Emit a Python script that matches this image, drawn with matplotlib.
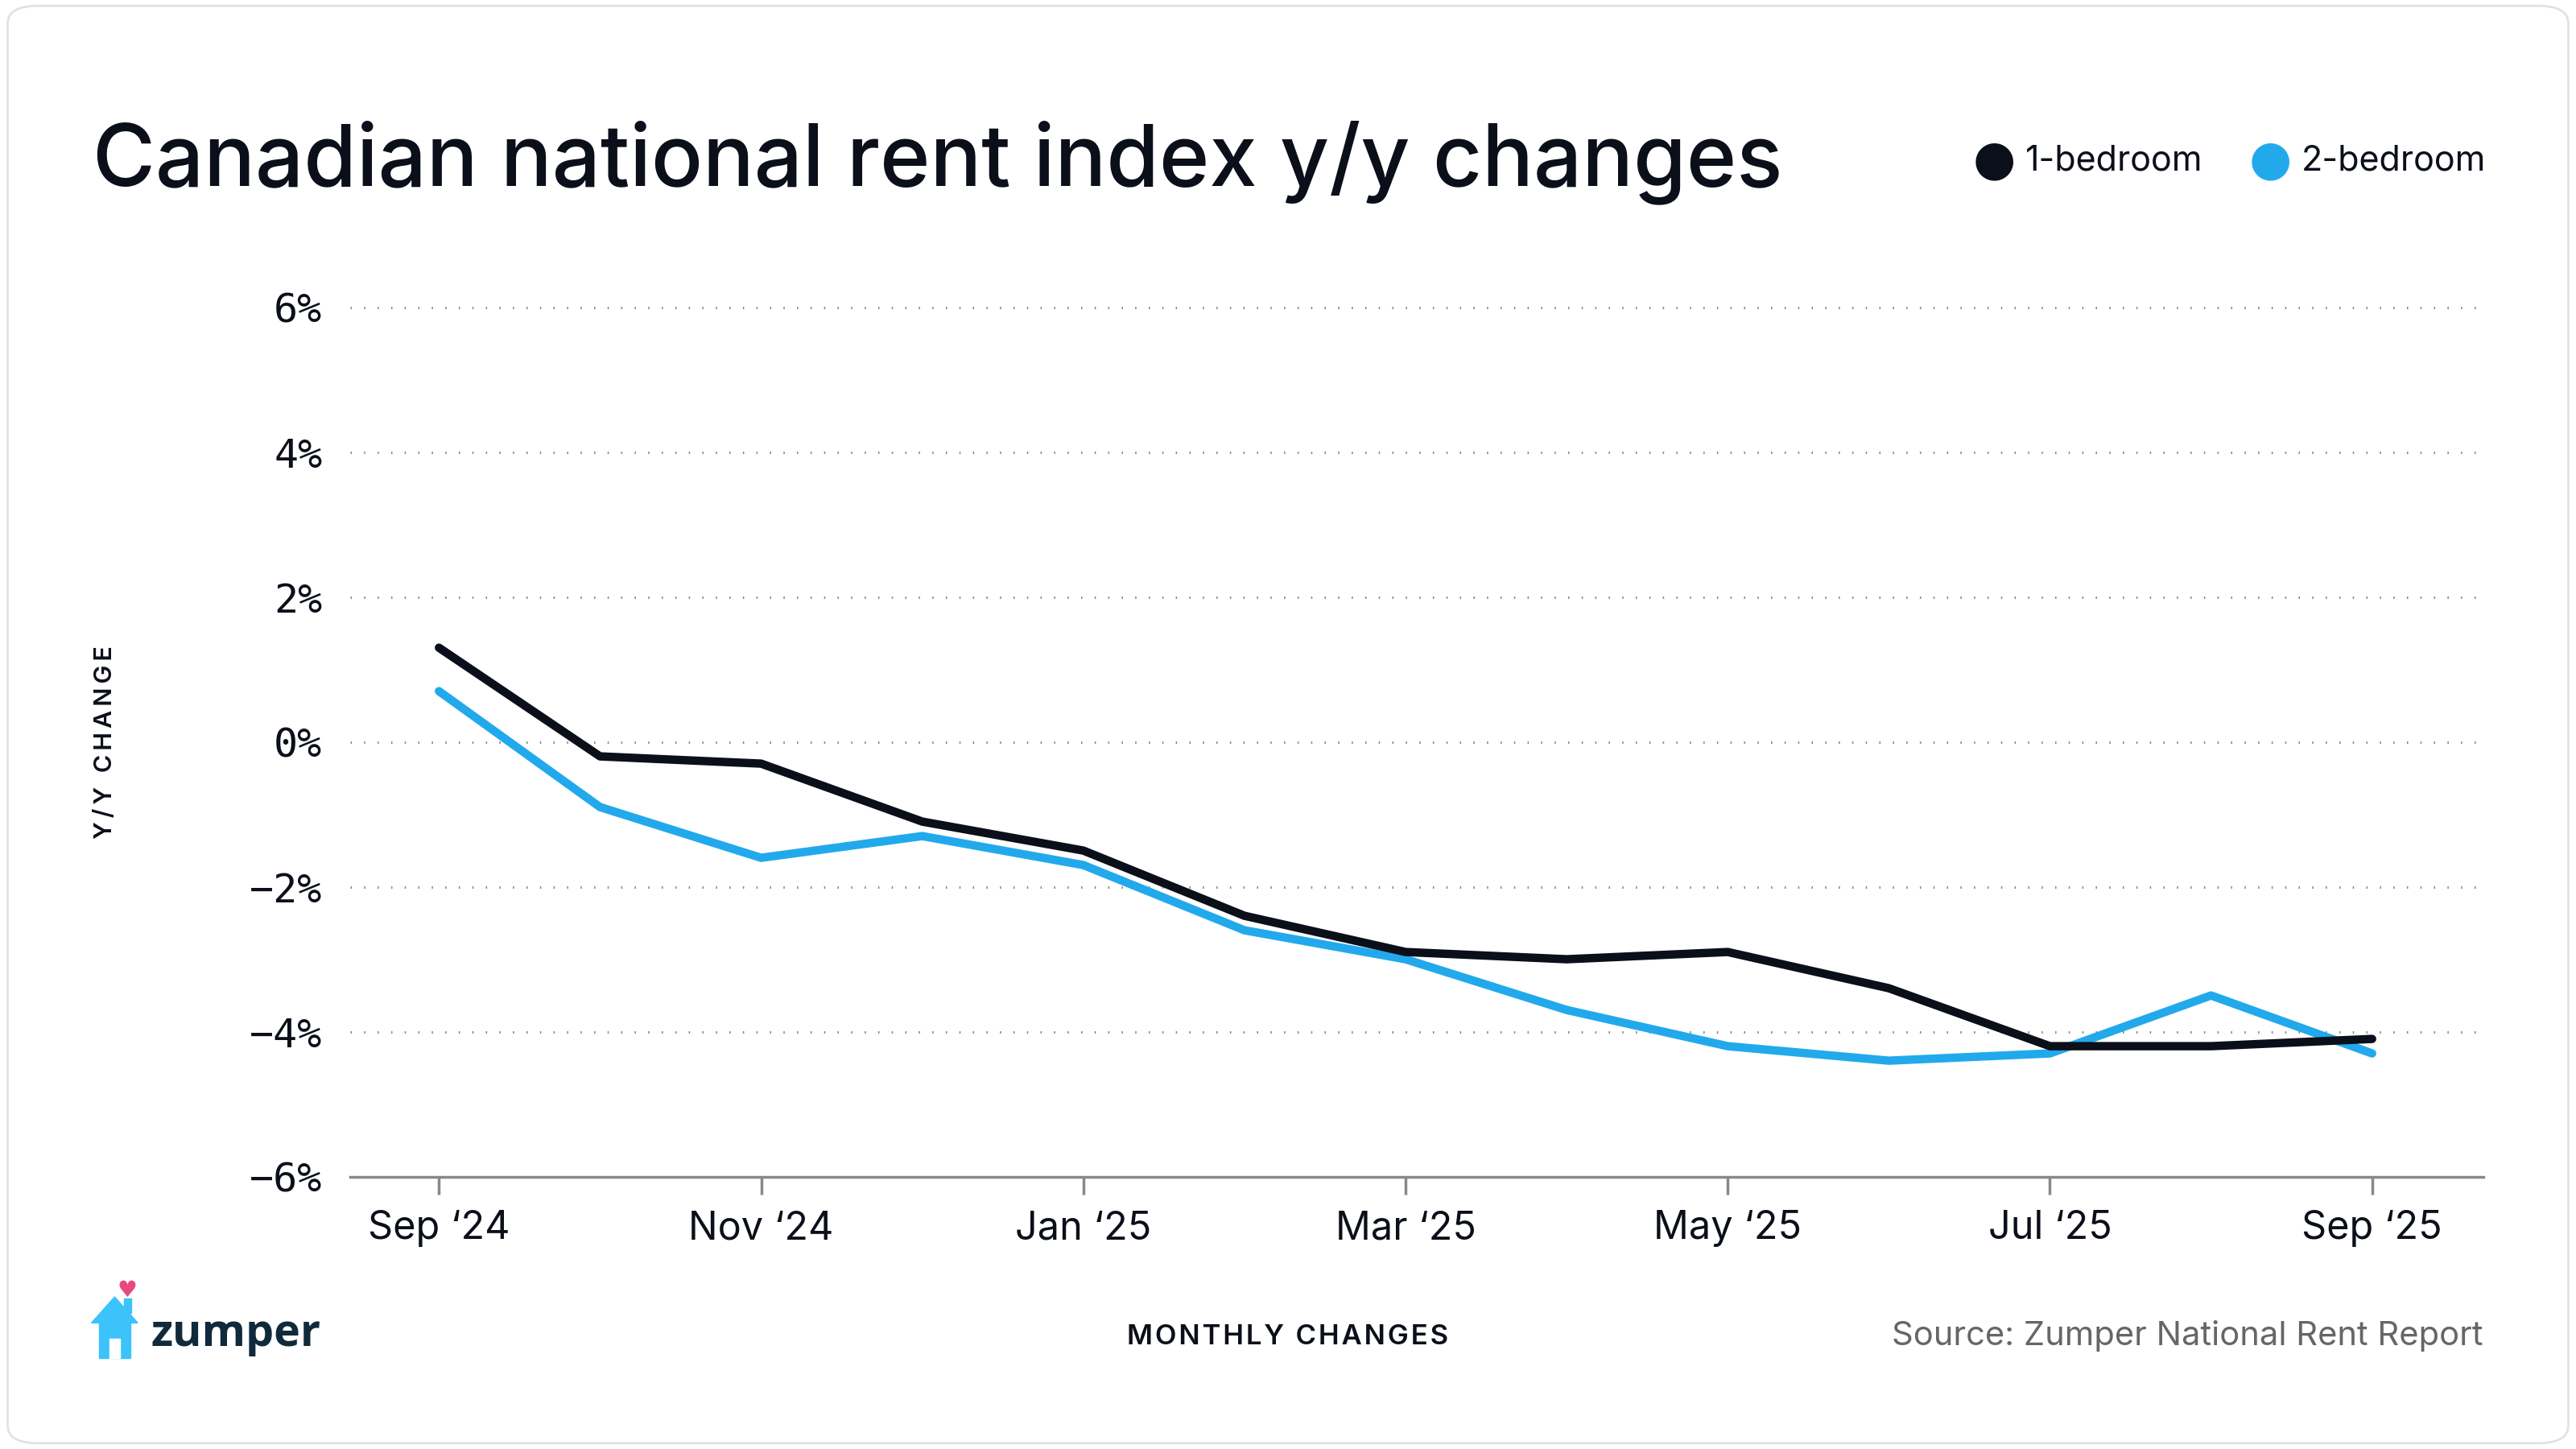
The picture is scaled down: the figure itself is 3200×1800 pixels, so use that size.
import matplotlib.pyplot as plt
from matplotlib.patches import FancyBboxPatch, Polygon, Rectangle

months = ["Sep '24", "Oct '24", "Nov '24", "Dec '24", "Jan '25", "Feb '25", "Mar '25",
          "Apr '25", "May '25", "Jun '25", "Jul '25", "Aug '25", "Sep '25"]
tick_labels = ["Sep \u201824", "Nov \u201824", "Jan \u201825", "Mar \u201825",
               "May \u201825", "Jul \u201825", "Sep \u201825"]
one_bed = [1.3, -0.2, -0.3, -1.1, -1.5, -2.4, -2.9, -3.0, -2.9, -3.4, -4.2, -4.2, -4.1]
two_bed = [0.7, -0.9, -1.6, -1.3, -1.7, -2.6, -3.0, -3.7, -4.2, -4.4, -4.3, -3.5, -4.3]
y_ticks = [-6, -4, -2, 0, 2, 4, 6]

BLACK = "#0b0f1a"
BLUE = "#22a9ec"
SANS = ["Inter", "DejaVu Sans"]
MONO = ["DejaVu Sans Mono"]

fig = plt.figure(figsize=(32, 18), dpi=100)
fig.patch.set_facecolor("white")

# card border
fig.patches.append(FancyBboxPatch((0.003, 0.004), 0.994, 0.992,
                                  boxstyle="round,pad=0,rounding_size=0.012",
                                  transform=fig.transFigure, fill=False,
                                  edgecolor="#e2e2e2", linewidth=2))

ax = fig.add_axes([0.136, 0.188, 0.828, 0.600])
x = list(range(len(months)))
ax.plot(x, two_bed, color=BLUE, lw=7.5, solid_capstyle="round", solid_joinstyle="round", zorder=3)
ax.plot(x, one_bed, color=BLACK, lw=7.5, solid_capstyle="round", solid_joinstyle="round", zorder=4)

ax.set_xlim(-0.55, 12.69)
ax.set_ylim(-6, 6)
ax.set_yticks(y_ticks)
ax.set_yticklabels([f"{v}%".replace("-", "\u2212") for v in y_ticks],
                   fontfamily=MONO, fontsize=36, color=BLACK)
ax.set_xticks(x[::2])
ax.set_xticklabels(tick_labels, fontfamily=SANS, fontsize=35, color=BLACK)

for v in y_ticks[1:]:
    ax.axhline(v, color="#888888", lw=2.2, ls=(0, (0.5, 5)), zorder=1, clip_on=False)

for s in ["top", "right", "left"]:
    ax.spines[s].set_visible(False)
ax.spines["bottom"].set_color("#888888")
ax.spines["bottom"].set_linewidth(2.5)
ax.tick_params(axis="y", length=0, pad=25)
ax.tick_params(axis="x", length=16, width=2.5, color="#888888", pad=14)

# title and legend
fig.text(0.036, 0.872, "Canadian national rent index y/y changes", fontfamily=SANS,
         fontsize=76.5, fontweight="medium", color=BLACK, ha="left", va="baseline")
for cx, label, col in [(0.7742, "1-bedroom", BLACK), (0.8814, "2-bedroom", BLUE)]:
    fig.text(cx, 0.889, "\u25cf", fontsize=44, color=col, ha="center", va="center",
             fontfamily=["DejaVu Sans"])
    fig.text(cx + 0.0121, 0.889, label, fontfamily=SANS, fontsize=31, color=BLACK,
             ha="left", va="center")

# axis titles
fig.text(0.041, 0.488, "\u200a\u200a".join("Y/Y CHANGE"), rotation=90, fontfamily=SANS,
         fontsize=22, fontweight="semibold", color=BLACK, ha="center", va="center")
fig.text(0.5, 0.077, "\u200a".join("MONTHLY CHANGES"), fontfamily=SANS,
         fontsize=25, fontweight="semibold", color=BLACK, ha="center", va="center")
fig.text(0.964, 0.078, "Source: Zumper National Rent Report", fontfamily=SANS,
         fontsize=30, color="#666666", ha="right", va="center")

# zumper logo
house = "#3cc3fb"
fig.patches.append(Polygon([(0.0355, 0.087), (0.0445, 0.105), (0.0535, 0.087)],
                           closed=True, transform=fig.transFigure, color=house))
fig.patches.append(Rectangle((0.0385, 0.063), 0.012, 0.026, transform=fig.transFigure, color=house))
fig.patches.append(Rectangle((0.0482, 0.094), 0.0028, 0.010, transform=fig.transFigure, color=house))
fig.patches.append(Rectangle((0.0425, 0.063), 0.004, 0.013, transform=fig.transFigure, color="white"))
fig.text(0.0495, 0.1095, "\u2665", fontsize=20, color="#e84a7f", ha="center", va="center",
         fontfamily=["DejaVu Sans"])
fig.text(0.0585, 0.079, "zumper", fontfamily=["Open Sans", "DejaVu Sans"], fontsize=40,
         fontweight="bold", color="#10293b", ha="left", va="center")

fig.savefig("out.png", dpi=100)
